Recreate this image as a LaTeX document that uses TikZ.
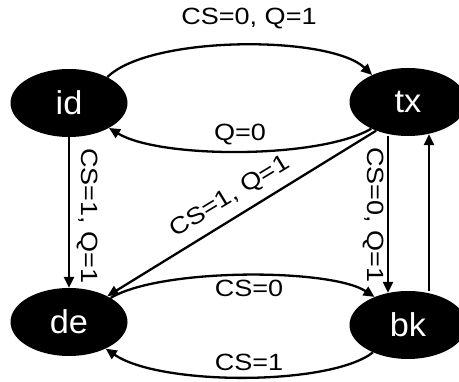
\documentclass[tikz,border=0pt]{standalone}
\usepackage{fontspec}
\setmainfont[FakeStretch=1.04]{Liberation Sans}
\newfontfamily\lblfont[FakeStretch=1.15]{Liberation Sans}
\usetikzlibrary{shapes.geometric,arrows.meta}
\begin{document}
\begin{tikzpicture}[x=1pt,y=-1pt,
  state/.style={ellipse,fill=black,text=white,minimum width=117pt,minimum height=68pt,inner sep=0pt,font=\fontsize{33}{36}\selectfont},
  edge/.style={line width=2.3pt,-{Triangle[length=11pt,width=10pt]}},
  lbl/.style={font=\lblfont\fontsize{23.5}{26}\selectfont,inner sep=0pt}]
\useasboundingbox (0,0) rectangle (459,382);
\node[state] (id) at (69,103) {id};
\node[state] (tx) at (408,102) {tx};
\node[state] (de) at (69,322) {de};
\node[state] (bk) at (408,325) {bk};
% edges
\draw[edge] (id.34) .. controls (150,35) and (330,35) .. (tx.143);
\draw[edge] (tx.216) .. controls (320,159) and (160,159) .. (id.328);
\draw[edge] (id.south) -- (de.north);
\draw[edge] (tx.222) -- (de.34);
\draw[edge] ([xshift=-20pt]tx.south) -- ([xshift=-20pt,yshift=-2pt]bk.north);
\draw[edge] ([xshift=21pt]bk.north) -- ([xshift=21pt,yshift=2pt]tx.south);
\draw[edge] (de.30) .. controls (160,268) and (330,268) .. (bk.140);
\draw[edge] (bk.218) .. controls (330,386) and (160,386) .. (de.324);
% labels
\node[lbl] (l1) at (249,19) {CS=0, Q=1};
\node[lbl] (l2) at (240,135) {Q=0};
\node[lbl,rotate=-90] (l3) at (87,216) {CS=1, Q=1};
\node[lbl,rotate=31.3] (l4) at (230,197) {CS=1, Q=1};
\node[lbl,rotate=-90] (l5) at (373,215) {CS=0, Q=1};
\node[lbl] (l6) at (249,288) {CS=0};
\node[lbl] (l7) at (249,362) {CS=1};
\end{tikzpicture}
\end{document}
